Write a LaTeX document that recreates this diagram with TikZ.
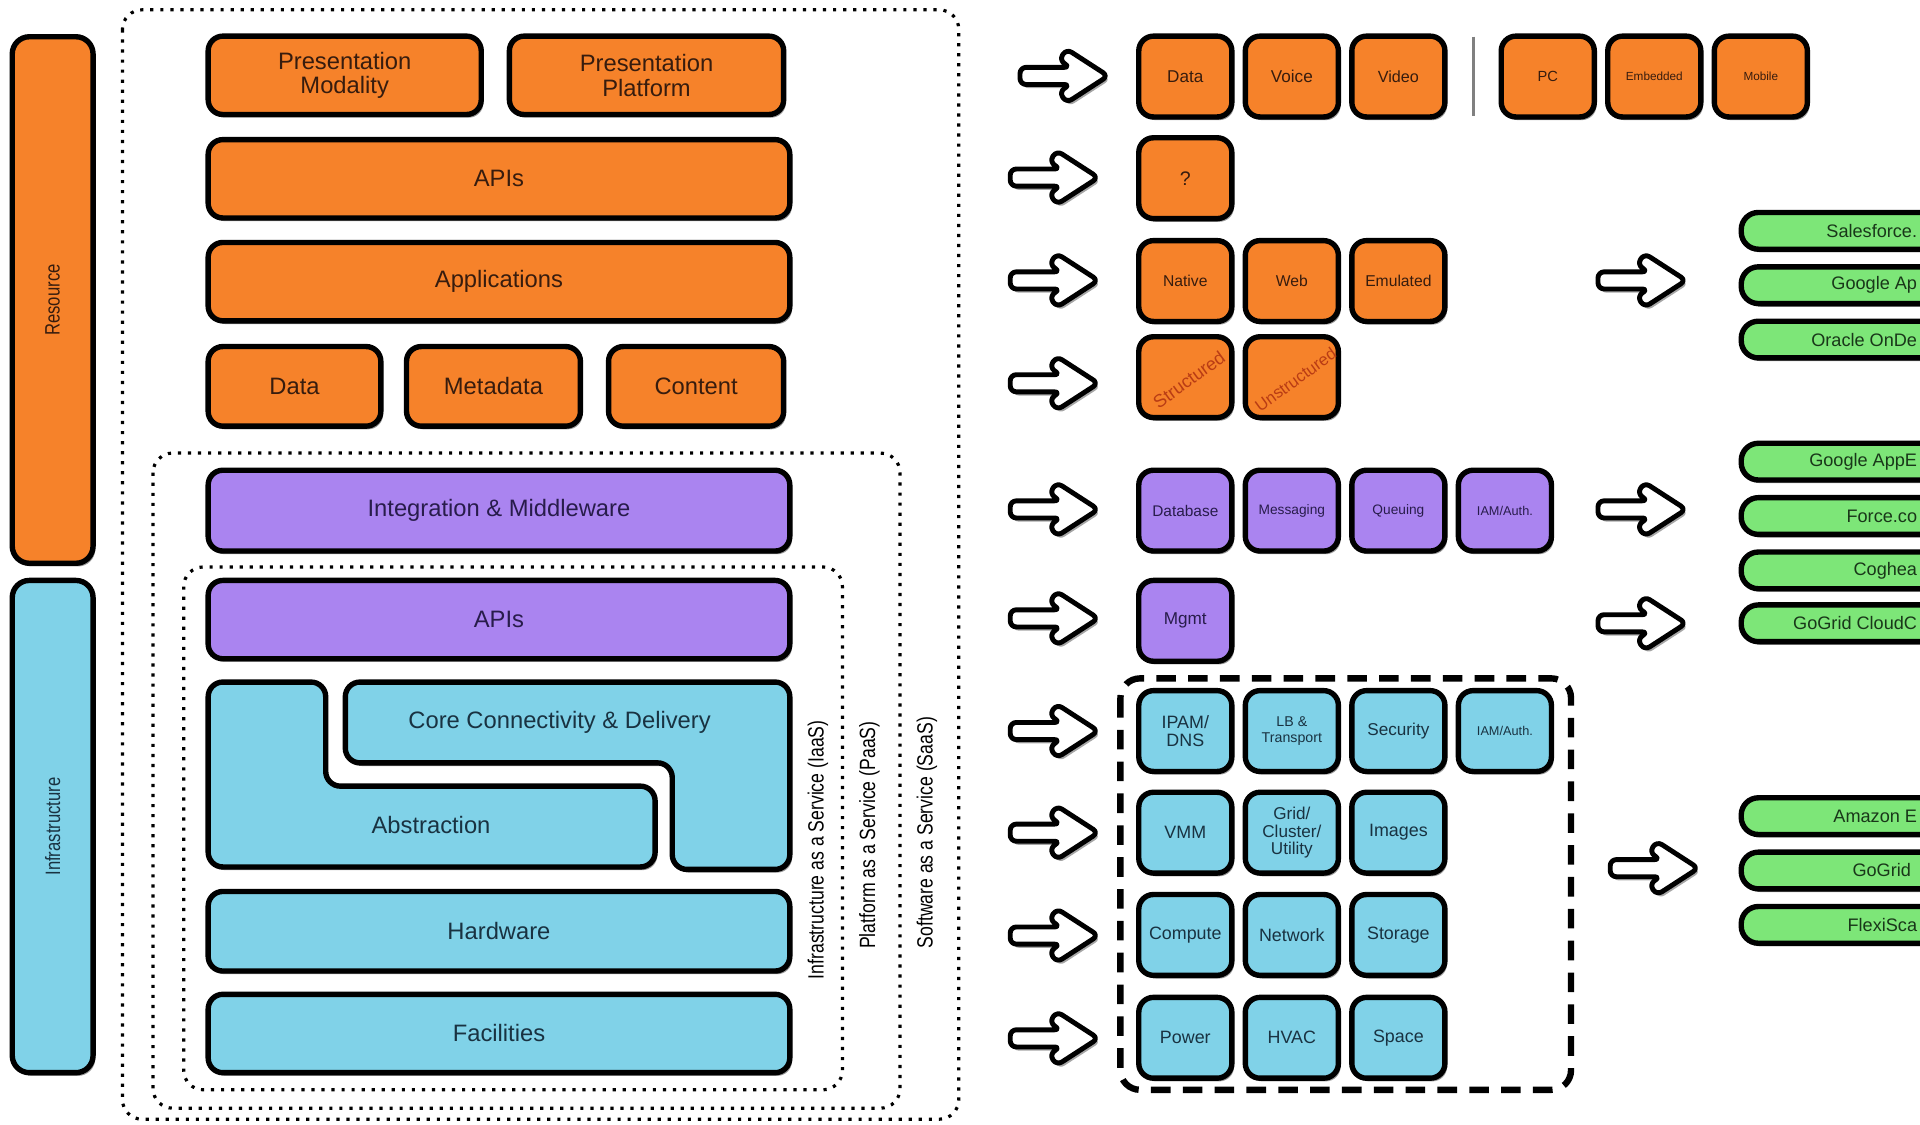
\documentclass[tikz,border=0pt]{standalone}
\usepackage{fontspec}
\setmainfont{Liberation Sans}
\newfontfamily\narrowfont[FakeStretch=0.8]{Liberation Sans}
\usepackage{tikz}
\usetikzlibrary{shapes.geometric, shadows, positioning}

\definecolor{resorange}{RGB}{246,130,42}
\definecolor{midpurple}{RGB}{170,132,240}
\definecolor{infrablue}{RGB}{128,210,232}
\definecolor{vendorgreen}{RGB}{125,230,120}
\definecolor{inkbrown}{RGB}{55,28,14}
\definecolor{inkpurple}{RGB}{40,28,75}
\definecolor{inkblue}{RGB}{25,50,65}
\definecolor{inkgreen}{RGB}{25,55,25}
\definecolor{inkred}{RGB}{185,60,20}

\tikzstyle{boxshadow} = [drop shadow={shadow xshift=0.9pt, shadow yshift=-1.3pt, opacity=0.4, fill=black}]
\tikzstyle{layer} = [rectangle, rounded corners=6pt, line width=2.2pt, draw=black, minimum height=32pt, align=center, font=\fontsize{9.7}{10}\selectfont, boxshadow]
\tikzstyle{wide} = [layer, minimum width=237.5pt]
\tikzstyle{sidebar} = [rectangle, rotate=90, rounded corners=7pt, line width=2.2pt, draw=black, minimum height=33pt, font=\narrowfont\fontsize{8.5}{10}\selectfont, boxshadow]
\tikzstyle{cell} = [rectangle, rounded corners=6pt, line width=2.2pt, draw=black, minimum width=38pt, minimum height=33pt, inner sep=1pt, align=center, font=\fontsize{7}{7.5}\selectfont, boxshadow]
\tikzstyle{rescell} = [cell, fill=resorange, text=inkbrown]
\tikzstyle{midcell} = [cell, fill=midpurple, text=inkpurple, font=\fontsize{6.3}{7}\selectfont]
\tikzstyle{infracell} = [cell, fill=infrablue, text=inkblue, font=\fontsize{7.3}{7.6}\selectfont]
\tikzstyle{vendor} = [rectangle, rounded corners=7pt, line width=2.2pt, draw=black, fill=vendorgreen, minimum width=118pt, minimum height=15pt, boxshadow]
\tikzstyle{vendorname} = [anchor=east, inner sep=0pt, text=inkgreen, font=\fontsize{7.4}{8}\selectfont]
\tikzstyle{dotbox} = [line width=1.3pt, dash pattern=on 1.3pt off 2.8pt, rounded corners=8pt]
\tikzstyle{dashbox} = [line width=2.6pt, dash pattern=on 8pt off 5pt, rounded corners=8pt]
\tikzstyle{svclabel} = [rotate=90, font=\narrowfont\fontsize{9}{10}\selectfont]
\tikzstyle{slant} = [rotate=36, text=inkred, inner sep=0pt, font=\fontsize{7.4}{8}\selectfont]

\tikzset{pics/fatarrow/.style={code={
  \draw[line width=2pt, rounded corners=2.5pt, line join=round, fill=white,
        drop shadow={shadow xshift=1pt, shadow yshift=-1.5pt, opacity=0.35, fill=black}]
    (20,-7) -- (41,-7) -- (32,-13) -- (38,-22) -- (72,0) -- (38,22) -- (32,13)
    -- (41,7) -- (0,7) -- (0,-7) -- cycle;
}}}

\begin{document}
\begin{tikzpicture}[x=0.5pt, y=-0.5pt, node distance=43.5pt]
\clip (0,0) rectangle (1568,918);
\fill[white] (0,0) rectangle (1568,918);

% service boundaries
\draw[dotbox] (100,8) rectangle (783,914);
\draw[dotbox] (125,370) rectangle (735,905);
\draw[dotbox] (150,463) rectangle (688,890);
\node (iaas) [svclabel] at (668,694) {Infrastructure as a Service (IaaS)};
\node (paas) [svclabel] at (710,682) {Platform as a Service (PaaS)};
\node (saas) [svclabel] at (757,680) {Software as a Service (SaaS)};

% side bars
\node (resource) [sidebar, fill=resorange, text=inkbrown, minimum width=215pt] at (43,245) {Resource};
\node (infra) [sidebar, fill=infrablue, text=inkblue, minimum width=201pt] at (43,675) {Infrastructure};

% resource layers
\node (pmod) [layer, fill=resorange, text=inkbrown, minimum width=111.5pt] at (281.5,61.5) {Presentation\\Modality};
\node (pplat) [layer, fill=resorange, text=inkbrown, minimum width=112pt] at (528,61.5) {Presentation\\Platform};
\node (apis) [wide, fill=resorange, text=inkbrown] at (407.5,146) {APIs};
\node (apps) [wide, fill=resorange, text=inkbrown] at (407.5,230) {Applications};
\node (data) [layer, fill=resorange, text=inkbrown, minimum width=70.5pt, minimum height=32.5pt] at (240.5,315.5) {Data};
\node (metadata) [layer, fill=resorange, text=inkbrown, minimum width=71pt, minimum height=32.5pt] at (403,315.5) {Metadata};
\node (content) [layer, fill=resorange, text=inkbrown, minimum width=71.5pt, minimum height=32.5pt] at (568.5,315.5) {Content};

% middleware layers
\node (integ) [wide, fill=midpurple, text=inkpurple, minimum height=33pt] at (407.5,417) {Integration \& Middleware};
\node (papis) [wide, fill=midpurple, text=inkpurple] at (407.5,506) {APIs};

% infrastructure layers
\draw[line width=2.2pt, rounded corners=6pt, fill=infrablue, boxshadow]
  (170,557) -- (266,557) -- (266,642) -- (535,642) -- (535,708) -- (170,708) -- cycle;
\draw[line width=2.2pt, rounded corners=6pt, fill=infrablue, boxshadow]
  (282,557) -- (645,557) -- (645,710) -- (549,710) -- (549,623) -- (282,623) -- cycle;
\node (abstr) [text=inkblue, font=\fontsize{9.7}{10}\selectfont] at (352,674) {Abstraction};
\node (core) [text=inkblue, font=\fontsize{9.7}{10}\selectfont] at (457,590) {Core Connectivity \& Delivery};
\node (hardware) [wide, fill=infrablue, text=inkblue, minimum height=32.5pt] at (407.5,760.5) {Hardware};
\node (facilities) [wide, fill=infrablue, text=inkblue] at (407.5,844) {Facilities};

% arrows to the detail rows
\foreach \ay in {145,229,313,416,505,597,680,764,848}
  \pic at (825,\ay) {fatarrow};
\pic at (833,62) {fatarrow};

% presentation row
\node (cdata) [rescell] at (968,62.5) {Data};
\node (voice) [rescell, right of=cdata] {Voice};
\node (video) [rescell, right of=voice, font=\fontsize{6.6}{7}\selectfont] {Video};
\node (pc) [rescell, right of=video, xshift=17.5pt, font=\fontsize{6}{7}\selectfont] {PC};
\node (embedded) [rescell, right of=pc, font=\fontsize{4.8}{5}\selectfont] {Embedded};
\node (mobile) [rescell, right of=embedded, font=\fontsize{4.8}{5}\selectfont] {Mobile};
\draw[gray, line width=1.2pt] (1203,30) -- (1203,95);

% api / application / data rows
\node (unknown) [rescell, font=\fontsize{8}{9}\selectfont] at (968,145.5) {?};
\node (native) [rescell, font=\fontsize{6.4}{7}\selectfont] at (968,229.5) {Native};
\node (web) [rescell, right of=native, font=\fontsize{6.4}{7}\selectfont] {Web};
\node (emulated) [rescell, right of=web, font=\fontsize{6.4}{7}\selectfont] {Emulated};
\node (structured) [rescell] at (968,308) {};
\node (unstructured) [rescell, right of=structured] {};
\node (slabel) [slant] at (971,310) {Structured};
\node (ulabel) [slant, font=\fontsize{6.8}{7}\selectfont] at (1058,310) {Unstructured};

% middleware rows
\node (database) [midcell] at (968,417) {Database};
\node (messaging) [midcell, right of=database, font=\fontsize{5.6}{6}\selectfont] {Messaging};
\node (queuing) [midcell, right of=messaging, font=\fontsize{5.6}{6}\selectfont] {Queuing};
\node (iamauth) [midcell, right of=queuing, font=\fontsize{5.2}{6}\selectfont] {IAM/Auth.};
\node (mgmt) [midcell, font=\fontsize{7}{8}\selectfont] at (968,507) {Mgmt};

% infrastructure rows
\draw[dashbox] (915,554) rectangle (1283,890);
\node (ipam) [infracell] at (968,597) {IPAM/\\DNS};
\node (lb) [infracell, right of=ipam, font=\fontsize{5.8}{6.6}\selectfont] {LB \&\\Transport};
\node (security) [infracell, right of=lb, font=\fontsize{7}{8}\selectfont] {Security};
\node (iamauth2) [infracell, right of=security, font=\fontsize{5.2}{6}\selectfont] {IAM/Auth.};
\node (vmm) [infracell] at (968,680) {VMM};
\node (grid) [infracell, right of=vmm, font=\fontsize{7}{7.3}\selectfont] {Grid/\\Cluster/\\Utility};
\node (images) [infracell, right of=grid] {Images};
\node (compute) [infracell] at (968,763.5) {Compute};
\node (network) [infracell, right of=compute] {Network};
\node (storage) [infracell, right of=network] {Storage};
\node (power) [infracell] at (968,847.5) {Power};
\node (hvac) [infracell, right of=power] {HVAC};
\node (space) [infracell, right of=hvac] {Space};

% providers
\foreach \ay in {229,416,509}
  \pic at (1305,\ay) {fatarrow};
\pic at (1315,709) {fatarrow};
\node (sforce) [vendor] at (1540,188.5) {};
\node (gapps) [vendor, below=5pt of sforce] {};
\node (oracle) [vendor, below=5pt of gapps] {};
\node (gae) [vendor] at (1540,377) {};
\node (force) [vendor, below=5pt of gae] {};
\node (coghead) [vendor, below=5pt of force] {};
\node (gcloud) [vendor] at (1540,509) {};
\node (ec2) [vendor] at (1540,666.5) {};
\node (gogrid) [vendor, below=5pt of ec2] {};
\node (flexi) [vendor, below=5pt of gogrid] {};
\coordinate (cutedge) at (1566,0);
\coordinate (gridedge) at (1561,0);
\node (sforcename) [vendorname] at (sforce.center -| cutedge) {Salesforce.};
\node (gappsname) [vendorname] at (gapps.center -| cutedge) {Google Ap};
\node (oraclename) [vendorname] at (oracle.center -| cutedge) {Oracle OnDe};
\node (gaename) [vendorname] at (gae.center -| cutedge) {Google AppE};
\node (forcename) [vendorname] at (force.center -| cutedge) {Force.co};
\node (cogheadname) [vendorname] at (coghead.center -| cutedge) {Coghea};
\node (gcloudname) [vendorname] at (gcloud.center -| cutedge) {GoGrid CloudC};
\node (ec2name) [vendorname] at (ec2.center -| cutedge) {Amazon E};
\node (gogridname) [vendorname] at (gogrid.center -| gridedge) {GoGrid};
\node (flexiname) [vendorname] at (flexi.center -| cutedge) {FlexiSca};
\end{tikzpicture}
\end{document}
